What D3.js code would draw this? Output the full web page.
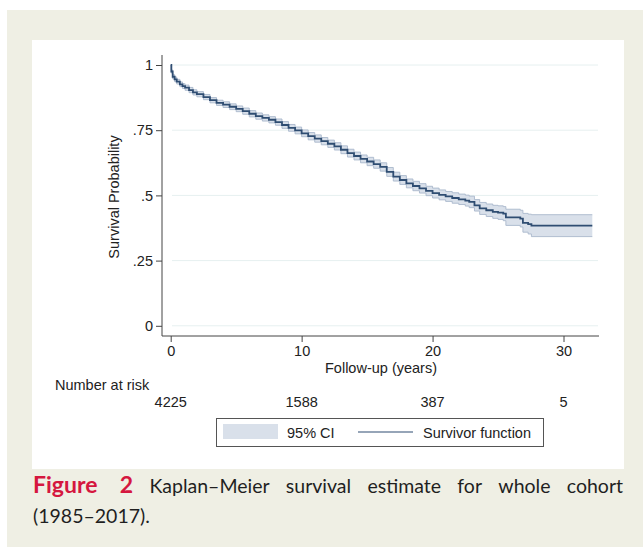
<!DOCTYPE html>
<html>
<head>
<meta charset="utf-8">
<script src="https://cdn.jsdelivr.net/npm/d3@7"></script>
<style>
  body { margin: 0; background: #fff; }
  svg { display: block; }
</style>
</head>
<body>
<div id="chart"></div>
<script>
// Kaplan-Meier estimate (step points)
const times = [0, 0.05, 0.15, 0.3, 0.46, 0.7, 0.9, 1.1, 1.4, 1.7, 2.0, 2.5, 3.0, 3.5, 4.0, 4.5, 5.0,
  5.5, 6.0, 6.5, 7.0, 7.5, 8.0, 8.5, 9.0, 9.5, 10.0, 10.5, 11.0, 11.5, 12.0, 12.5, 13.0, 13.5, 14.0,
  14.5, 15.0, 15.5, 16.0, 16.5, 17.0, 17.5, 18.0, 18.5, 19.0, 19.5, 20.0, 20.5, 21.0, 21.5, 22.0,
  22.5, 22.8, 23.2, 23.6, 24.1, 24.6, 25.0, 25.4, 25.6, 26.7, 26.9, 27.3, 27.55, 32.2];
const survival = [1.000, 0.975, 0.955, 0.945, 0.936, 0.926, 0.919, 0.913, 0.904, 0.895, 0.888, 0.877,
  0.865, 0.855, 0.848, 0.840, 0.832, 0.823, 0.813, 0.804, 0.797, 0.790, 0.781, 0.770, 0.759, 0.749,
  0.738, 0.727, 0.718, 0.708, 0.698, 0.688, 0.675, 0.662, 0.651, 0.640, 0.630, 0.620, 0.609, 0.590,
  0.572, 0.559, 0.546, 0.536, 0.527, 0.517, 0.509, 0.502, 0.496, 0.490, 0.485, 0.480, 0.475, 0.462,
  0.450, 0.443, 0.437, 0.434, 0.430, 0.416, 0.411, 0.395, 0.390, 0.384, 0.384];
// half-width of the 95% band at each step
const ciHalf = [0, 0.006, 0.008, 0.009, 0.009, 0.009, 0.009, 0.010, 0.010, 0.010, 0.010, 0.010,
  0.010, 0.010, 0.011, 0.011, 0.011, 0.012, 0.012, 0.012, 0.012, 0.012, 0.012, 0.013, 0.013, 0.013,
  0.013, 0.014, 0.014, 0.014, 0.014, 0.014, 0.015, 0.015, 0.015, 0.015, 0.016, 0.016, 0.016, 0.017,
  0.017, 0.017, 0.017, 0.018, 0.018, 0.018, 0.019, 0.019, 0.019, 0.020, 0.020, 0.021, 0.022, 0.022,
  0.023, 0.024, 0.025, 0.026, 0.027, 0.031, 0.032, 0.036, 0.038, 0.042, 0.042];

const yTicks = [0, 0.25, 0.5, 0.75, 1];
const yTickLabels = ["0", ".25", ".5", ".75", "1"];
const xTicks = [0, 10, 20, 30];
const atRisk = [4225, 1588, 387, 5];

const W = 643, H = 547;
const font = '"Liberation Sans", Arial, sans-serif';
const fs = 14.5;

const svg = d3.select("#chart").append("svg")
    .attr("width", W)
    .attr("height", H);

// page backgrounds
svg.append("rect").attr("x", 7).attr("y", 10).attr("width", W - 7).attr("height", H - 10).attr("fill", "#efefe4");
svg.append("rect").attr("x", 32).attr("y", 40).attr("width", 592).attr("height", 429).attr("fill", "#fff");

const x = d3.scaleLinear().domain([0, 30]).range([170.7, 563.5]);
const y = d3.scaleLinear().domain([0, 1]).range([325.8, 65]);

const data = times.map((t, i) => ({ t: t, s: survival[i], lo: survival[i] - ciHalf[i], hi: survival[i] + ciHalf[i] }));

// grid lines
svg.append("g").selectAll("line")
    .data(yTicks)
    .join("line")
    .attr("x1", 172).attr("x2", 598)
    .attr("y1", d => y(d)).attr("y2", d => y(d))
    .attr("stroke", "#e6f0f0")
    .attr("stroke-width", 1);

// CI band
const area = d3.area()
    .curve(d3.curveStepAfter)
    .x(d => x(d.t))
    .y0(d => y(d.lo))
    .y1(d => y(d.hi));

svg.append("path")
    .datum(data)
    .attr("d", area)
    .attr("fill", "#d9e0ea")
    .attr("stroke", "none");

const edge = key => d3.line().curve(d3.curveStepAfter).x(d => x(d.t)).y(d => y(d[key]));
["lo", "hi"].forEach(k => {
    svg.append("path")
        .datum(data)
        .attr("d", edge(k))
        .attr("fill", "none")
        .attr("stroke", "#a9b8cc")
        .attr("stroke-width", 0.9);
});

// survivor function
svg.append("path")
    .datum(data)
    .attr("d", edge("s"))
    .attr("fill", "none")
    .attr("stroke", "#2f4d72")
    .attr("stroke-width", 1.8);

// y axis
const yAxis = svg.append("g")
    .attr("transform", "translate(162,0)")
    .call(d3.axisLeft(y).tickValues(yTicks).tickFormat((d, i) => yTickLabels[i]).tickSize(6).tickPadding(3));
yAxis.select(".domain").attr("d", "M0,55V336").attr("stroke", "#444");
yAxis.selectAll(".tick line").attr("stroke", "#444");
yAxis.selectAll(".tick text").attr("font-family", font).attr("font-size", fs).attr("fill", "#222");

// x axis
const xAxis = svg.append("g")
    .attr("transform", "translate(0,336)")
    .call(d3.axisBottom(x).tickValues(xTicks).tickSize(6).tickPadding(3.5));
xAxis.select(".domain").attr("d", "M162,0H599").attr("stroke", "#444");
xAxis.selectAll(".tick line").attr("stroke", "#444");
xAxis.selectAll(".tick text").attr("font-family", font).attr("font-size", fs).attr("fill", "#222");

// axis titles
svg.append("text")
    .attr("transform", "translate(119,197) rotate(-90)")
    .attr("text-anchor", "middle")
    .attr("font-family", font).attr("font-size", fs).attr("fill", "#222")
    .text("Survival Probability");

svg.append("text")
    .attr("x", 381).attr("y", 373)
    .attr("text-anchor", "middle")
    .attr("font-family", font).attr("font-size", fs).attr("fill", "#222")
    .text("Follow-up (years)");

// number at risk
svg.append("text")
    .attr("x", 55).attr("y", 390)
    .attr("font-family", font).attr("font-size", fs).attr("fill", "#222")
    .text("Number at risk");

svg.append("g").selectAll("text")
    .data(atRisk)
    .join("text")
    .attr("x", (d, i) => x(xTicks[i]))
    .attr("y", 407)
    .attr("text-anchor", "middle")
    .attr("font-family", font).attr("font-size", fs).attr("fill", "#222")
    .text(d => d);

// legend
const legend = svg.append("g");
legend.append("rect")
    .attr("x", 216.5).attr("y", 418.5).attr("width", 327).attr("height", 28)
    .attr("fill", "#fff").attr("stroke", "#555").attr("stroke-width", 1);
legend.append("rect")
    .attr("x", 223).attr("y", 424).attr("width", 55).attr("height", 15)
    .attr("fill", "#d9e0ea");
legend.append("text")
    .attr("x", 287).attr("y", 437.5)
    .attr("font-family", font).attr("font-size", fs).attr("fill", "#222")
    .text("95% CI");
legend.append("line")
    .attr("x1", 358).attr("x2", 413).attr("y1", 432).attr("y2", 432)
    .attr("stroke", "#2f4d72").attr("stroke-width", 1.2);
legend.append("text")
    .attr("x", 423).attr("y", 437.5)
    .attr("font-family", font).attr("font-size", fs).attr("fill", "#222")
    .text("Survivor function");

// caption, first line justified by hand
const capFont = 'Lato, "Open Sans", sans-serif';
const capSize = 19.5;
const line1 = [
    { w: "Figure", bold: true }, { w: "2", bold: true },
    { w: "Kaplan–Meier" }, { w: "survival" }, { w: "estimate" },
    { w: "for" }, { w: "whole" }, { w: "cohort" }
];
const cap = svg.append("g");
const words = line1.map(d => cap.append("text")
    .attr("y", 493)
    .attr("font-family", capFont)
    .attr("font-size", d.bold ? 23 : capSize)
    .attr("font-weight", d.bold ? 700 : 400)
    .attr("fill", d.bold ? "#d5173f" : "#1f1f1f")
    .text(d.w));
const widths = words.map(t => t.node().getComputedTextLength());
const gap = (623 - 33 - d3.sum(widths) - 6) / (words.length - 1);
let cx = 33;
words.forEach((t, i) => { t.attr("x", cx); cx += widths[i] + gap + (i === 0 ? 6 : 0); });

cap.append("text")
    .attr("x", 33).attr("y", 523)
    .attr("font-family", capFont).attr("font-size", capSize).attr("fill", "#1f1f1f")
    .text("(1985–2017).");
</script>
</body>
</html>
